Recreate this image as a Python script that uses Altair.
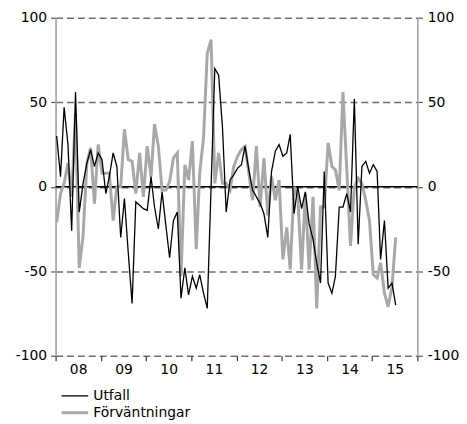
import altair as alt
import pandas as pd

# Monthly values Jan 2008 .. Jul 2015
utfall = [30, 6, 47, 25, -26, 56, -15, 2, 14, 22, 12, 20,
          16, -4, 6, 20, 12, -30, -7, -39, -69, -9, -11, -13,
          -14, 6, -12, -25, -3, -23, -42, -20, -15, -66, -48, -64,
          -53, -60, -52, -63, -72, 0, 70, 66, 35, -15, 4, 7,
          11, 13, 24, 10, -2, -6, -10, -16, -30, 9, 21, 25,
          18, 20, 31, -16, 0, -13, -3, -22, -31, -45, -57, 9,
          -57, -63, -53, -12, -12, -4, -15, 52, -34, 12, 15, 8,
          13, 9, -43, -20, -60, -57, -70]
forvantningar = [-21, -4, 2, 14, -6, 43, -48, -29, 14, 23, -10, 25,
                 8, 8, 8, -20, 0, 0, 34, 16, 15, -4, 20, -6,
                 24, 6, 37, 24, -2, -2, 3, 17, 20, -53, 13, 4,
                 27, -37, 8, 29, 79, 87, 2, 20, 2, 2, -2, 12,
                 18, 22, 24, 8, -8, 24, -12, 17, -17, 6, -8, 4,
                 -43, -24, -49, 0, -6, -49, -4, -49, -6, -72, -12, -12,
                 26, 12, 10, -2, 56, 10, -35, 0, 5, 2, -8, -20,
                 -52, -54, -45, -63, -71, -59, -30]

series_names = ["Utfall", "Förväntningar"]
series_colors = ["#000000", "#a8a8a8"]
series_widths = [1.3, 3]
year_ticks = list(range(2008, 2017))
y_ticks = [-100, -50, 0, 50, 100]

n = len(utfall)
dates = [f"{2008 + i // 12}-{i % 12 + 1:02d}-10T00:00:00" for i in range(n)]
df = pd.DataFrame({
    "date": dates + dates,
    "value": utfall + forvantningar,
    "serie": ["Utfall"] * n + ["Förväntningar"] * n,
})

FONT = "DejaVu Sans"
YLABEL = "datum.value < 0 ? '-' + abs(datum.value) : '' + datum.value"

xscale = alt.Scale(domain=[alt.DateTime(year=2008, month=1, date=1),
                           alt.DateTime(year=2016, month=1, date=1)])
yscale = alt.Scale(domain=[-100, 100])

xaxis = alt.Axis(values=[alt.DateTime(year=y, month=1, date=1) for y in year_ticks],
                 labelExpr="year(datum.value) < 2016 ? timeFormat(datum.value, '%y') : ''",
                 labelOffset=22.8, labelFlush=False, labelOverlap=False,
                 domain=False, grid=False, ticks=True, tickColor="#333333",
                 tickSize=5, tickWidth=1.2, labelFont=FONT, labelFontSize=14,
                 labelColor="#000000", labelPadding=2, title=None)

yleft = alt.Axis(values=y_ticks, labelExpr=YLABEL, grid=True, gridDash=[7, 4],
                 gridColor="#6e6e6e", gridWidth=1.5, gridOpacity=1,
                 domainColor="#a0a0a0", domainWidth=1.6,
                 tickColor="#555555", tickWidth=1.2, tickSize=5, labelFont=FONT,
                 labelFontSize=14, labelColor="#000000", labelPadding=4,
                 labelFlush=False, title=None)
yright = alt.Axis(values=y_ticks, labelExpr=YLABEL, orient="right", grid=False,
                  domainColor="#a0a0a0", domainWidth=1.6, tickColor="#555555",
                  tickWidth=1.2, tickSize=5, labelFont=FONT, labelFontSize=14,
                  labelColor="#000000", labelPadding=5, labelFlush=False, title=None)

legend = alt.Legend(title=None, orient="none", legendX=11, legendY=374,
                    direction="vertical", symbolType="M-2,0H2", symbolSize=182,
                    labelFont=FONT, labelFontSize=14, labelColor="#000000",
                    labelOffset=10, rowPadding=1, padding=0)

color = alt.Color("serie:N", scale=alt.Scale(domain=series_names, range=series_colors),
                  legend=legend)
sw = alt.StrokeWidth("serie:N", scale=alt.Scale(domain=series_names, range=series_widths),
                     legend=legend)

zero = alt.Chart(pd.DataFrame({"y": [0]})).mark_rule(color="#000000", strokeWidth=1.5).encode(
    y=alt.Y("y:Q", scale=yscale, axis=yright))

gray = alt.Chart(df).transform_filter(alt.datum.serie == "Förväntningar").mark_line().encode(
    x=alt.X("date:T", scale=xscale, axis=xaxis),
    y=alt.Y("value:Q", scale=yscale, axis=yleft),
    color=color, strokeWidth=sw)

black = alt.Chart(df).transform_filter(alt.datum.serie == "Utfall").mark_line().encode(
    x=alt.X("date:T", scale=xscale, axis=xaxis),
    y=alt.Y("value:Q", scale=yscale, axis=None),
    color=color, strokeWidth=sw)

chart = alt.layer(zero, gray, black).resolve_axis(y="independent").properties(
    width=365, height=341,
    autosize=alt.AutoSizeParams(type="none"),
    padding={"left": 48, "top": 8, "right": 42, "bottom": 63},
).configure_view(strokeWidth=0)

chart.save("out.html", embed_options={"renderer": "svg", "actions": False})
